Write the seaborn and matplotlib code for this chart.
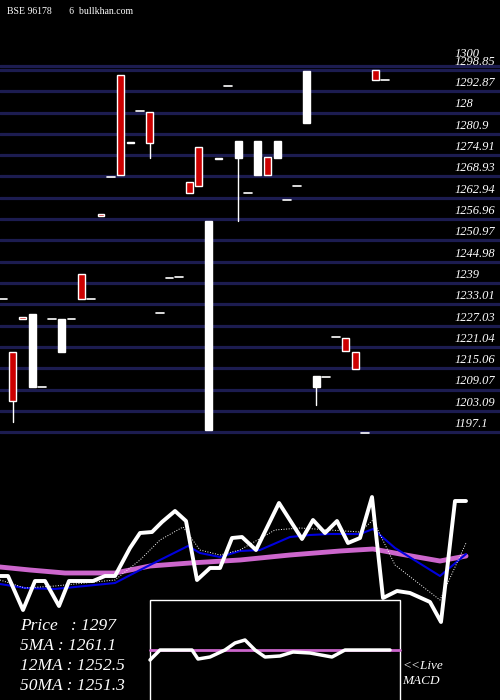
import matplotlib
matplotlib.use("Agg")
import matplotlib.pyplot as plt
import seaborn as sns
import numpy as np
import pandas as pd

sns.set_style("dark")
plt.rcParams['font.family'] = ['Liberation Serif', 'DejaVu Serif']

# candle data (open, close, high, low); open==close => doji dash
opens  = [1234.5,1219.7,1229.5,1209.7,1209.8,1229.0,1219.5,1229.0,1241.5,1234.5,
          1258.3,1268.7,1297.5,1278.7,1287.4,1287.1,1230.7,1240.5,1240.6,1267.3,
          1277.1,1197.8,1274.2,1294.3,1274.2,1264.3,1269.3,1274.4,1274.2,1262.4,
          1266.2,1284.0,1209.7,1212.6,1223.8,1223.6,1219.7,1197.0,1298.7,1296.1]
closes = [1234.5,1206.0,1228.8,1230.3,1209.8,1229.0,1229.0,1229.0,1234.5,1234.5,
          1257.8,1268.7,1269.3,1278.2,1287.4,1278.3,1230.7,1240.5,1240.6,1264.3,
          1266.2,1256.5,1273.8,1294.3,1279.0,1264.3,1279.0,1269.3,1279.0,1262.4,
          1266.2,1298.5,1212.8,1212.6,1223.8,1219.9,1214.8,1197.0,1296.1,1296.1]
lows   = [None,1200.0,None,None,None,None,None,None,None,None,
          None,None,None,None,None,1274.1,None,None,None,None,
          None,None,None,None,1256.5,None,None,None,None,None,
          None,None,1204.8,None,None,None,None,None,None,None]
grid_prices = [1300,1298.85,1292.87,1286.88,1280.9,1274.91,1268.93,1262.94,1256.96,1250.97,
               1244.98,1239,1233.01,1227.03,1221.04,1215.06,1209.07,1203.09,1197.1]
grid_labels = ["1300","1298.85","1292.87","128","1280.9","1274.91","1268.93","1262.94","1256.96",
               "1250.97","1244.98","1239","1233.01","1227.03","1221.04","1215.06","1209.07","1203.09","1197.1"]

# lower panel series (pixel-row values)
px_x   = [0,8,23,35,45,59,69,93,105,115,130,140,152,162,175,186,197,210,220,232,242,256,279,302,313,325,337,348,360,372,383,397,410,430,441,455,466]
px_y   = [576,576,610,581,581,606,581,581,576,576,548,533,532,522,511,521,580,568,568,538,537,550,503,539,520,533,521,543,538,497,598,591,593,602,622,501,501]
ma5_x  = [0,25,55,85,115,140,160,188,200,220,240,260,290,310,330,360,373,395,440,466]
ma5_y  = [584,588,589,586,583,570,560,546,553,557,551,550,537,535,534,534,529,548,576,554]
ma12_x = [0,25,55,115,140,160,183,200,220,240,275,300,330,360,373,395,440,466]
ma12_y = [580,588,586,580,560,540,527,550,555,550,530,528,530,532,520,565,600,543]
ma50_x = [0,30,65,115,150,190,240,290,340,373,400,440,466]
ma50_y = [567,570,573,573,566,563,560,555,551,549,554,561,556]
macd_x = [150,160,192,198,210,225,235,245,255,265,280,293,310,332,345,390]
macd_y = [660,650,650,659,657,650,643,640,650,657,656,652,653,657,650,650]

fig = plt.figure(figsize=(5, 7), dpi=100, facecolor='black')
ax = fig.add_axes([0, 0, 1, 1])
ax.set_facecolor('black')
sc = 9.795
ax.set_xlim(-3 / sc, 497 / sc)
ax.set_ylim(1121.9, 1318.5)
ax.axis('off')

for p in grid_prices:
    ax.axhline(p, color='#1c1c50', lw=2.3, zorder=1)
for p, l in zip(grid_prices, grid_labels):
    ax.text(452 / sc, p + 0.6 if l != "1300" else p + 1.6, l, color='white', fontsize=9,
            style='italic', va='bottom', ha='left', zorder=3)

w = 0.7
for i, (o, c, lo) in enumerate(zip(opens, closes, lows)):
    if lo is not None:
        ax.plot([i, i], [lo, min(o, c)], color='white', lw=1, zorder=2)
    if o == c:
        ax.plot([i - 0.4, i + 0.4], [o, o], color='white', lw=1.2, zorder=2)
    elif c < o:
        ax.bar(i, o - c, bottom=c, width=w, color='#cc0000', edgecolor='white', lw=1, zorder=2)
    else:
        ax.bar(i, c - o, bottom=o, width=w, color='white', edgecolor='white', lw=1, zorder=2)

ax.text(4 / sc, 1318.5 - 12 / 3.561, "BSE 96178       6  bullkhan.com", color='white',
        fontsize=7, va='center', ha='left')

# lower panel
ax2 = fig.add_axes([0, 0, 1, 1])
ax2.set_xlim(0, 500)
ax2.set_ylim(700, 0)
ax2.axis('off')
ax2.patch.set_alpha(0)
sns.lineplot(x=ma50_x, y=ma50_y, ax=ax2, color='#cc66cc', lw=3.5, sort=False)
sns.lineplot(x=ma5_x, y=ma5_y, ax=ax2, color='#0000dd', lw=1.5, sort=False)
sns.lineplot(x=ma12_x, y=ma12_y, ax=ax2, color='white', lw=0.7, ls=':', sort=False)
sns.lineplot(x=px_x, y=px_y, ax=ax2, color='white', lw=2.8, sort=False)

ax2.add_patch(plt.Rectangle((150, 600), 250, 105, facecolor='black', edgecolor='white', lw=1, zorder=5))
ax2.plot([150, 400], [650, 650], color='#cc66cc', lw=2, zorder=6)
ax2.plot(macd_x, macd_y, color='white', lw=2.5, zorder=7)

for i, t in enumerate(["Price   : 1297", "5MA : 1261.1", "12MA : 1252.5", "50MA : 1251.3"]):
    ax2.text(20, 626 + i * 20, t, color='white', fontsize=12.5, style='italic', va='center', zorder=8)
ax2.text(402, 666, "<<Live", color='white', fontsize=9.5, style='italic', va='center', zorder=8)
ax2.text(402, 681, "MACD", color='white', fontsize=9.5, style='italic', va='center', zorder=8)

fig.savefig("out.png", dpi=100, facecolor='black')
